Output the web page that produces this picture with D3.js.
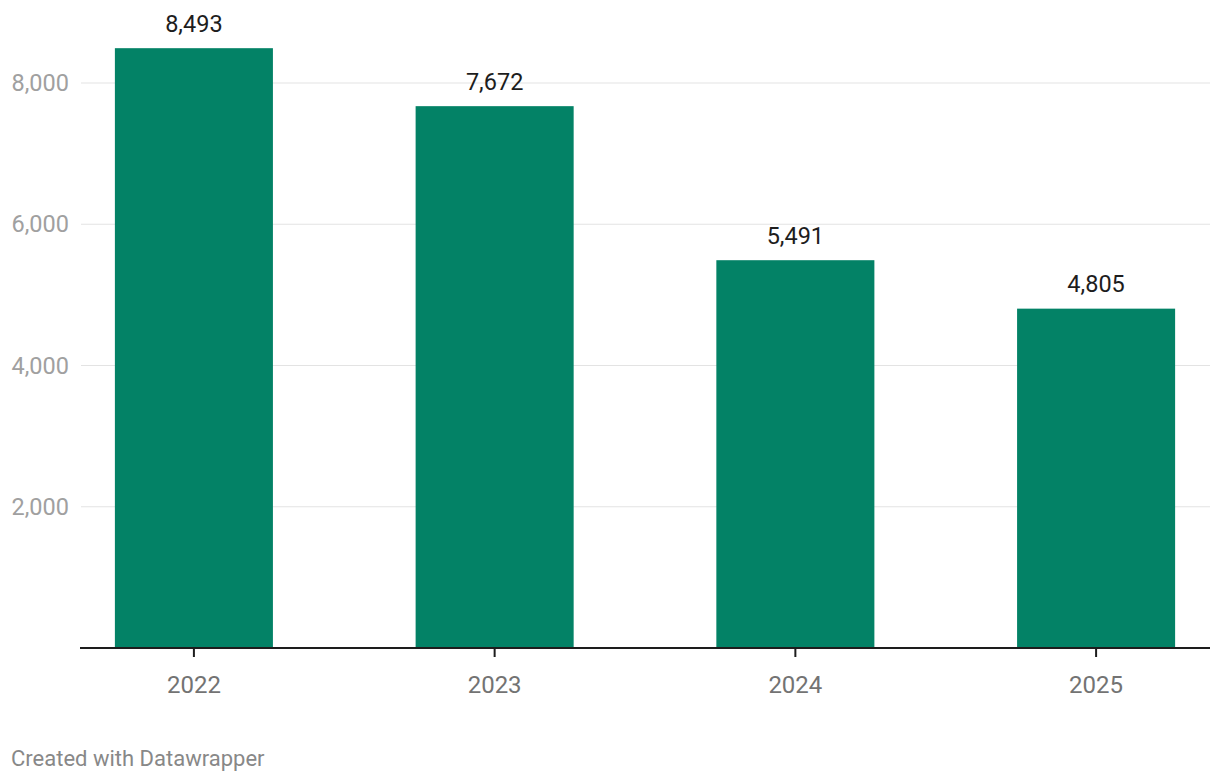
<!DOCTYPE html>
<html><head><meta charset="utf-8">
<script src="https://cdn.jsdelivr.net/npm/d3@7"></script>
<style>body{margin:0;background:#fff;font-family:Roboto,sans-serif}</style>
</head><body><svg id="c" width="1220" height="780"></svg>
<script>
const years = ["2022","2023","2024","2025"];
const values = [8493, 7672, 5491, 4805];
const yTicks = [2000, 4000, 6000, 8000];

const svg = d3.select("#c");
const x = d3.scaleBand().domain(years).range([80,1210]).paddingInner(0.4745).paddingOuter(0.116);
const y = d3.scaleLinear().domain([0,8000]).range([648,83]);
const fmt = d3.format(",");

// grid
svg.append("g").selectAll("line").data(yTicks).join("line")
  .attr("x1",81).attr("x2",1210).attr("y1",d=>y(d)).attr("y2",d=>y(d))
  .attr("stroke","#e3e3e3").attr("stroke-width",1.2);
svg.append("g").selectAll("text").data(yTicks).join("text")
  .attr("x",69).attr("y",d=>y(d)).attr("dy","0.35em").attr("text-anchor","end")
  .attr("fill","#a0a0a0").attr("font-size",23.5).text(d=>fmt(d));

// bars
svg.append("g").selectAll("rect").data(values).join("rect")
  .attr("x",(d,i)=>x(years[i])).attr("width",x.bandwidth())
  .attr("y",d=>y(d)).attr("height",d=>y(0)-y(d)).attr("fill","#038266");

// value labels
svg.append("g").selectAll("text").data(values).join("text")
  .attr("x",(d,i)=>x(years[i])+x.bandwidth()/2).attr("y",d=>y(d)-16.5)
  .attr("text-anchor","middle").attr("fill","#1d1d1d").attr("font-size",23.5).text(d=>fmt(d));

// x axis
const xa = svg.append("g").attr("transform","translate(0,648)");
xa.append("line").attr("x1",80).attr("x2",1210).attr("stroke","#1d1d1d").attr("stroke-width",2);
xa.selectAll(".t").data(years).join("line").attr("class","t")
  .attr("x1",d=>x(d)+x.bandwidth()/2).attr("x2",d=>x(d)+x.bandwidth()/2)
  .attr("y1",0).attr("y2",9).attr("stroke","#1d1d1d").attr("stroke-width",2);
xa.selectAll("text").data(years).join("text")
  .attr("x",d=>x(d)+x.bandwidth()/2).attr("y",45).attr("text-anchor","middle")
  .attr("fill","#737373").attr("font-size",24).text(d=>d);

svg.append("text").attr("x",11).attr("y",766).attr("fill","#888").attr("font-size",22)
  .text("Created with Datawrapper");
</script></body></html>
